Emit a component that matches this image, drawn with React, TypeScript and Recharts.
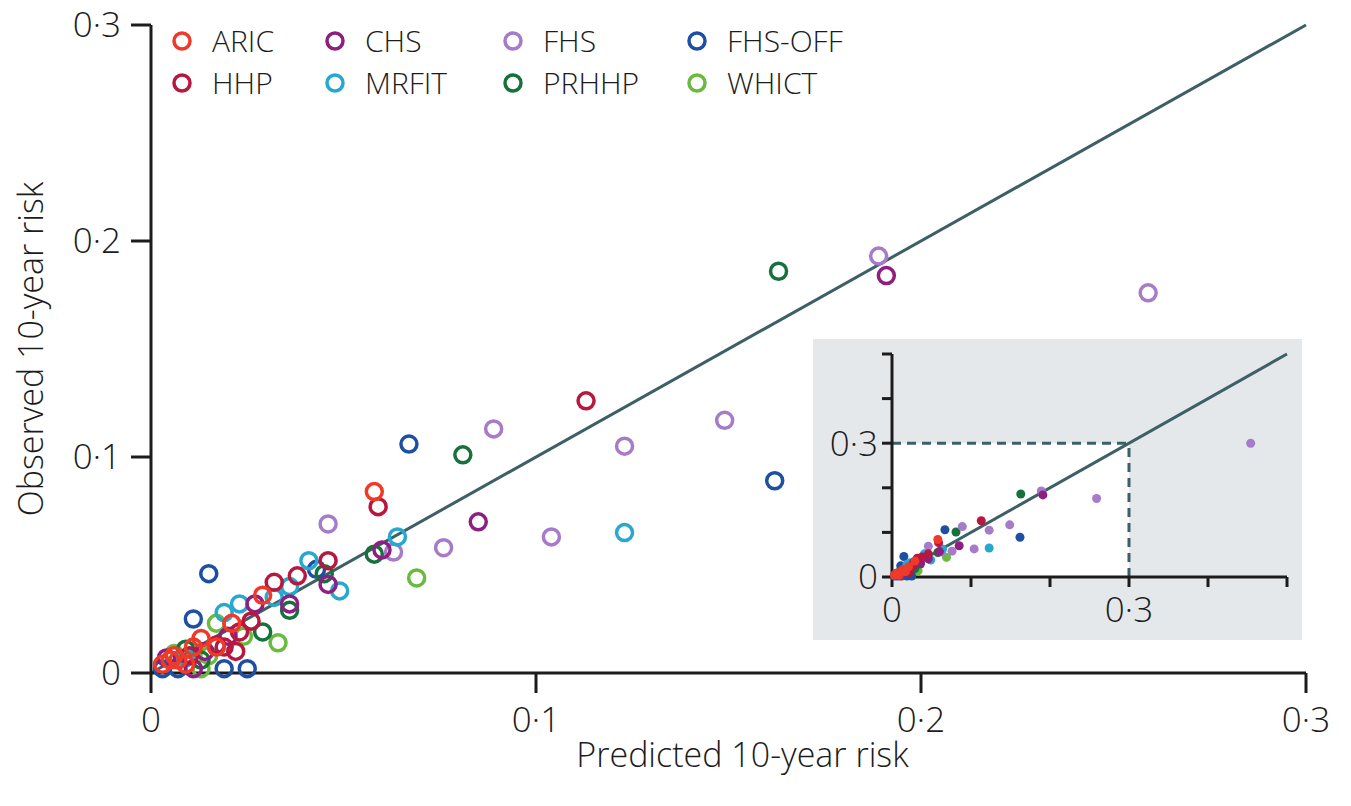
import { ScatterChart, Scatter, XAxis, YAxis, ReferenceLine, ReferenceArea, Legend } from 'recharts';

type Pt = [number, number];

const ARIC: Pt[] = [
  [0.058, 0.084], [0.029, 0.036], [0.021, 0.023], [0.013, 0.016], [0.011, 0.012],
  [0.017, 0.012], [0.006, 0.008], [0.007, 0.006], [0.003, 0.004], [0.009, 0.004], [0.005, 0.006],
];
const HHP: Pt[] = [
  [0.113, 0.126], [0.059, 0.077], [0.046, 0.052], [0.038, 0.045], [0.032, 0.042],
  [0.026, 0.024], [0.023, 0.019], [0.019, 0.012], [0.022, 0.010], [0.017, 0.013], [0.010, 0.008],
];
const CHS: Pt[] = [
  [0.191, 0.184], [0.085, 0.070], [0.060, 0.057], [0.046, 0.041], [0.036, 0.032],
  [0.027, 0.032], [0.020, 0.017], [0.011, 0.002], [0.004, 0.007], [0.014, 0.010],
];
const MRFIT: Pt[] = [
  [0.123, 0.065], [0.064, 0.063], [0.041, 0.052], [0.049, 0.038], [0.032, 0.035],
  [0.036, 0.040], [0.023, 0.032], [0.019, 0.028], [0.009, 0.007],
];
const FHS: Pt[] = [
  [0.189, 0.193], [0.259, 0.176], [0.149, 0.117], [0.123, 0.105], [0.089, 0.113],
  [0.046, 0.069], [0.076, 0.058], [0.104, 0.063], [0.063, 0.056],
];
const PRHHP: Pt[] = [
  [0.163, 0.186], [0.081, 0.101], [0.058, 0.055], [0.045, 0.046], [0.036, 0.029],
  [0.029, 0.019], [0.009, 0.011], [0.013, 0.006],
];
const FHS_OFF: Pt[] = [
  [0.067, 0.106], [0.162, 0.089], [0.015, 0.046], [0.011, 0.025], [0.043, 0.048],
  [0.003, 0.002], [0.007, 0.002], [0.019, 0.002], [0.025, 0.002],
];
const WHICT: Pt[] = [
  [0.069, 0.044], [0.033, 0.014], [0.017, 0.023], [0.024, 0.017], [0.015, 0.008],
  [0.006, 0.009], [0.013, 0.002],
];
// only visible in the zoomed-out inset
const FHS_INSET_EXTRA: Pt[] = [[0.454, 0.300]];

const SERIES_NAMES = ['ARIC', 'HHP', 'CHS', 'MRFIT', 'FHS', 'PRHHP', 'FHS-OFF', 'WHICT'];
const SERIES_DATA = [ARIC, HHP, CHS, MRFIT, FHS, PRHHP, FHS_OFF, WHICT];
const SERIES_COLORS = ['#ef3a29', '#b8173f', '#8c1f7f', '#27a8cf', '#a67bc9', '#17713c', '#1e4fa3', '#6cb93f'];

const MAIN_TICKS = [0, 0.1, 0.2, 0.3];
const INSET_TICKS = [0, 0.1, 0.2, 0.3, 0.4, 0.5];
const INSET_LABELLED = [0, 0.3];

const INK = '#1c1c1c';
const FIT = '#3d5f66';
const INSET_BG = '#e5e8eb';
const FONT = '"Open Sans", sans-serif';
const WEIGHT = 350;

const toXY = (pts: Pt[]) => pts.map(([x, y]) => ({ x, y }));
const fmt = (v: number) => (v === 0 ? '0' : v.toFixed(1).replace('.', '\u00B7'));
const fmtInset = (v: number) => (INSET_LABELLED.includes(v) ? fmt(v) : '');

const XTitle = (props: any) => {
  const vb = props.viewBox ?? { x: 151, y: 673, width: 1155, height: 133 };
  return (
    <text x={vb.x + vb.width / 2 + 14} y={vb.y + 94} textAnchor="middle" fontSize={34} fontWeight={WEIGHT} fill={INK} fontFamily={FONT}>
      Predicted 10-year risk
    </text>
  );
};

const YTitle = (props: any) => {
  const vb = props.viewBox ?? { x: 0, y: 25, width: 151, height: 648 };
  const x = vb.x + 43;
  const y = vb.y + vb.height / 2;
  return (
    <text x={x} y={y} transform={`rotate(-90 ${x} ${y})`} textAnchor="middle" fontSize={34} fontWeight={WEIGHT} fill={INK} fontFamily={FONT}>
      Observed 10-year risk
    </text>
  );
};

const LegendBox = () => (
  <div
    style={{
      display: 'grid',
      gridTemplateRows: '42px 42px',
      gridAutoFlow: 'column',
      gridTemplateColumns: '153px 178px 184px auto',
      fontFamily: FONT,
    }}
  >
    {SERIES_NAMES.map((name, i) => (
      <div key={name} style={{ display: 'flex', alignItems: 'center', height: 42 }}>
        <svg width={20} height={20}>
          <circle cx={10} cy={10} r={8} fill="none" stroke={SERIES_COLORS[i]} strokeWidth={3.5} />
        </svg>
        <span
          style={{
            marginLeft: 20,
            fontSize: 30,
            fontWeight: WEIGHT,
            color: INK,
            lineHeight: '42px',
            whiteSpace: 'nowrap',
          }}
        >
          {name}
        </span>
      </div>
    ))}
  </div>
);

const hollow = (color: string) => (p: any) => (
  <circle cx={p.cx} cy={p.cy} r={8} fill="none" stroke={color} strokeWidth={3.5} />
);
const dot = (color: string) => (p: any) => <circle cx={p.cx} cy={p.cy} r={4.5} fill={color} />;

const axisStyle = { stroke: INK, strokeWidth: 3 };
const tickText = { fill: INK, fontSize: 35, fontWeight: WEIGHT, fontFamily: FONT };

// draw ARIC last so it sits on top of the cluster, as in the figure
const drawOrder = SERIES_NAMES.map((_, i) => i).reverse();

export default function App() {
  return (
    <div style={{ position: 'absolute', left: 0, top: 0, width: 1351, height: 806, background: '#fff', fontFamily: FONT }}>
      <ScatterChart width={1351} height={806} margin={{ top: 25, right: 45, bottom: 0, left: 0 }}>
        <XAxis
          type="number"
          dataKey="x"
          domain={[0, 0.3]}
          ticks={MAIN_TICKS}
          interval={0}
          tickFormatter={fmt}
          height={133}
          tickSize={20}
          tickMargin={14}
          axisLine={axisStyle}
          tickLine={axisStyle}
          tick={tickText}
          label={XTitle}
        />
        <YAxis
          type="number"
          dataKey="y"
          domain={[0, 0.3]}
          ticks={MAIN_TICKS}
          interval={0}
          tickFormatter={fmt}
          width={151}
          tickSize={20}
          tickMargin={10}
          axisLine={axisStyle}
          tickLine={axisStyle}
          tick={tickText}
          label={YTitle}
        />
        <ReferenceLine segment={[{ x: 0, y: 0 }, { x: 0.3, y: 0.3 }]} stroke={FIT} strokeWidth={3} />
        {drawOrder.map(i => (
          <Scatter
            key={SERIES_NAMES[i]}
            name={SERIES_NAMES[i]}
            data={toXY(SERIES_DATA[i])}
            shape={hollow(SERIES_COLORS[i])}
            isAnimationActive={false}
          />
        ))}
        <Legend
          layout="horizontal"
          verticalAlign="middle"
          align="center"
          content={LegendBox}
          wrapperStyle={{ top: 20, left: 172, width: 760, height: 84 }}
        />
      </ScatterChart>

      <div style={{ position: 'absolute', left: 813, top: 339, width: 489, height: 301, background: INSET_BG }}>
        <ScatterChart width={489} height={301} margin={{ top: 15, right: 15, bottom: 0, left: 0 }}>
          <XAxis
            type="number"
            dataKey="x"
            domain={[0, 0.5]}
            ticks={INSET_TICKS}
            interval={0}
            tickFormatter={fmtInset}
            height={63}
            tickSize={10}
            tickMargin={10}
            axisLine={axisStyle}
            tickLine={axisStyle}
            tick={tickText}
          />
          <YAxis
            type="number"
            dataKey="y"
            domain={[0, 0.5]}
            ticks={INSET_TICKS}
            interval={0}
            tickFormatter={fmtInset}
            width={79}
            tickSize={10}
            tickMargin={4}
            axisLine={axisStyle}
            tickLine={axisStyle}
            tick={tickText}
          />
          <ReferenceArea x1={0} x2={0.3} y1={0} y2={0.3} fill="#ffffff" fillOpacity={1} stroke="none" />
          <ReferenceLine segment={[{ x: 0, y: 0.3 }, { x: 0.3, y: 0.3 }]} stroke={FIT} strokeWidth={3} strokeDasharray="9 6" />
          <ReferenceLine segment={[{ x: 0.3, y: 0 }, { x: 0.3, y: 0.3 }]} stroke={FIT} strokeWidth={3} strokeDasharray="9 6" />
          <ReferenceLine segment={[{ x: 0, y: 0 }, { x: 0.5, y: 0.5 }]} stroke={FIT} strokeWidth={3} />
          {drawOrder.map(i => (
            <Scatter
              key={SERIES_NAMES[i]}
              name={SERIES_NAMES[i]}
              data={toXY(SERIES_NAMES[i] === 'FHS' ? [...SERIES_DATA[i], ...FHS_INSET_EXTRA] : SERIES_DATA[i])}
              shape={dot(SERIES_COLORS[i])}
              isAnimationActive={false}
            />
          ))}
        </ScatterChart>
      </div>
    </div>
  );
}
